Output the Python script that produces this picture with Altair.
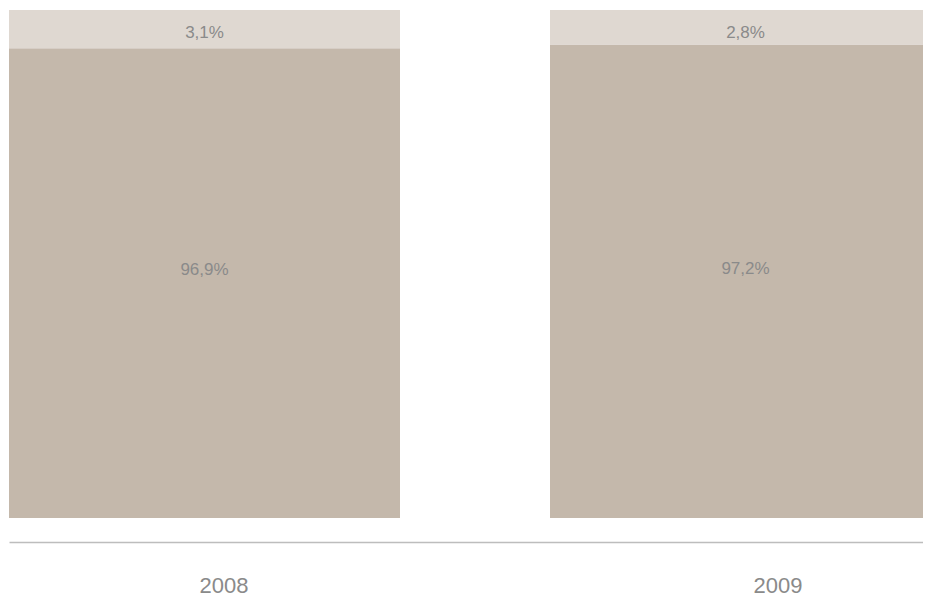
import altair as alt
import pandas as pd

# ---- data ----
years = ["2008", "2009"]
main_share = [96.9, 97.2]
other_share = [3.1, 2.8]
main_labels = ["96,9%", "97,2%"]
other_labels = ["3,1%", "2,8%"]

rows = []
for i, yr in enumerate(years):
    rows.append({"year": yr, "segment": "main", "rank": 0,
                 "value": main_share[i], "label": main_labels[i]})
    rows.append({"year": yr, "segment": "other", "rank": 1,
                 "value": other_share[i], "label": other_labels[i]})
df = pd.DataFrame(rows)

DARK = "#c4b8ab"
LIGHT = "#dfd8d1"
TEXT = "#8a8a8a"
FONT = "Liberation Sans"

x_enc = alt.X(
    "year:N",
    sort=years,
    title=None,
    scale=alt.Scale(domain=years, range=[1, 933],
                    paddingInner=150 / 541, paddingOuter=0),
    axis=alt.Axis(
        domain=True, domainColor="#bdbdbd", domainWidth=1.5,
        ticks=False, tickSize=0, grid=False,
        labelAngle=0, labelFont=FONT, labelFontSize=22, labelColor=TEXT,
        labelBaseline="alphabetic", labelPadding=50,
        labelOffset={"condition": {"test": "datum.value === '2008'", "value": 19.5},
                     "value": 32.5},
    ),
)

pow_scale = alt.Scale(type="pow", exponent=2.48, domain=[0, 100], range=[510, 2], nice=False)

base = (
    alt.Chart(df)
    .transform_stack(stack="value", groupby=["year"], as_=["y0", "y1"],
                     sort=[alt.SortField("rank", order="ascending")])
    .encode(x=x_enc)
)

bars = base.mark_bar(strokeWidth=0).encode(
    y=alt.Y("y0:Q", scale=pow_scale, axis=None),
    y2="y1:Q",
    color=alt.Color("segment:N", scale=alt.Scale(domain=["main", "other"], range=[DARK, LIGHT]),
                    legend=None),
)

top_text = (
    base.transform_filter("datum.segment === 'other'")
    .mark_text(font=FONT, fontSize=17, color=TEXT, baseline="alphabetic", dy=28.3)
    .encode(y=alt.Y("y1:Q", scale=pow_scale, axis=None), text="label:N")
)

bottom_text = (
    base.transform_filter("datum.segment === 'main'")
    .transform_calculate(mid="(datum.y0 + datum.y1) / 2")
    .mark_text(font=FONT, fontSize=17, color=TEXT, baseline="alphabetic", dy=3)
    .encode(
        y=alt.Y("mid:Q", scale=alt.Scale(type="linear", domain=[0, 100], range=[510, 2], nice=False),
                axis=None),
        text="label:N",
    )
)

chart = (
    alt.layer(bars, top_text, bottom_text)
    .resolve_scale(y="independent")
    .properties(width=915, height=534,
                autosize=alt.AutoSizeParams(type="none"),
                padding={"left": 0, "top": 0, "right": 0, "bottom": 55})
    .configure_view(strokeWidth=0)
)

chart.save("out.html", embed_options={"renderer": "svg", "actions": False})
